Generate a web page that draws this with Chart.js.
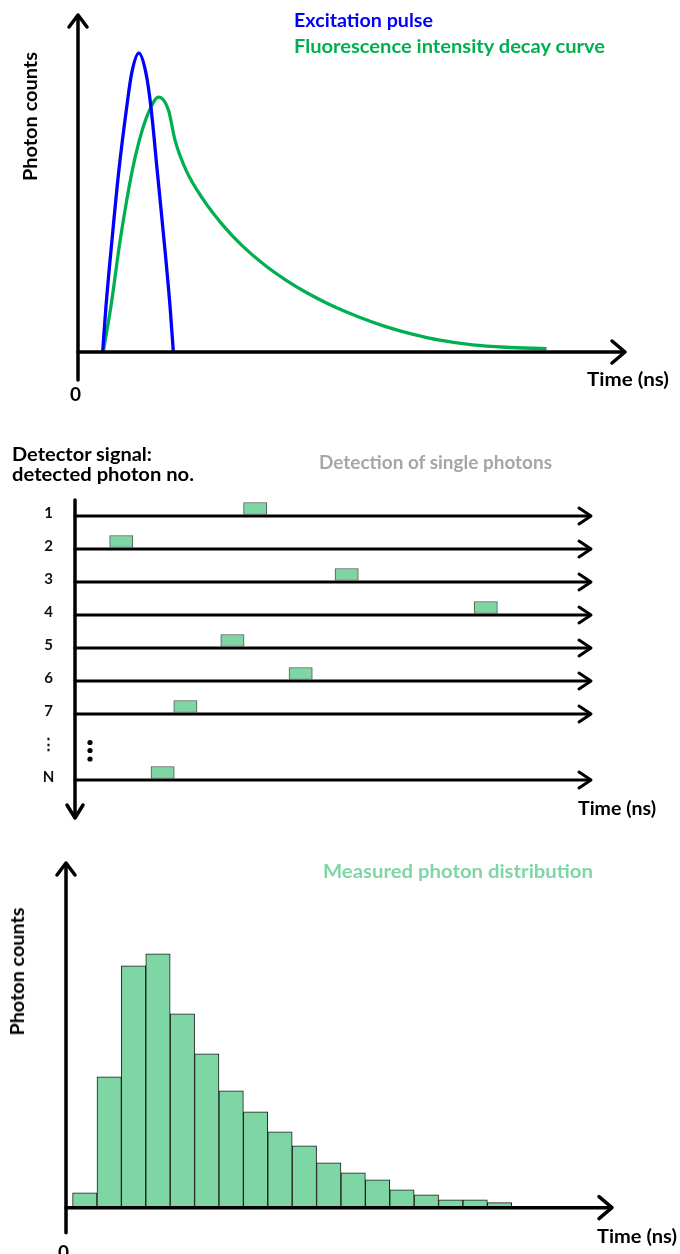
<!DOCTYPE html>
<html>
<head>
<meta charset="utf-8">
<script src="https://cdn.jsdelivr.net/npm/chart.js@4.4.1/dist/chart.umd.min.js"></script>
<style>
  html, body { margin: 0; padding: 0; background: #fff; }
  #page { position: relative; width: 680px; height: 1254px; overflow: hidden; background: #fff; }
  #page canvas { position: absolute; left: 0; }
  .lbl { position: absolute; white-space: nowrap; line-height: 1; font-weight: 700;
         font-family: Lato, 'Open Sans', sans-serif; }
</style>
</head>
<body>
<div id="page">
  <canvas id="c-decay" width="680" height="410" style="top:0"></canvas>
  <canvas id="c-photons" width="680" height="420" style="top:410px"></canvas>
  <canvas id="c-hist" width="680" height="424" style="top:830px"></canvas>
</div>
<script>
// ── Data ────────────────────────────────────────────────────────
// top panel: excitation pulse + fluorescence decay (time 0-100, counts 0-100)
const pulseTime   = [4.5, 5.1, 6.2, 7.4, 8.9, 9.8, 11.1, 12.4, 13.3, 14.5, 15.7, 16.8, 17.4];
const pulseCounts = [0, 13.4, 33.1, 52.9, 72.6, 82.5, 88.4, 82.5, 72.6, 52.9, 33.1, 13.4, 0];

const decayTime   = [4.6, 6.0, 7.7, 9.8, 11.2, 12.8, 14.7, 16.5, 17.7, 19.8, 22.9, 26.5,
                     30.0, 34.0, 38.0, 42.0, 46.0, 51.0, 56.0, 61.0, 66.0, 72.0, 78.0, 85.5];
const decayCounts = [0, 13.4, 33.1, 52.9, 62.7, 70.6, 75.4, 71.6, 62.7, 53.5, 45.0, 37.4,
                     31.4, 25.8, 21.2, 17.3, 14.0, 10.5, 7.6, 5.3, 3.5, 2.1, 1.4, 1.0];

// middle panel: arrival time of the single detected photon in each run
const rowLabels     = ['1', '2', '3', '4', '5', '6', '7', '\u22EE', 'N'];
const photonArrival = [32.6, 6.7, 50.3, 77.2, 28.2, 41.4, 19.1, null, 14.7];

// bottom panel: histogram of the arrival times
const binCenters = [0.5, 1.5, 2.5, 3.5, 4.5, 5.5, 6.5, 7.5, 8.5,
                    9.5, 10.5, 11.5, 12.5, 13.5, 14.5, 15.5, 16.5, 17.5];
const binCounts  = [15, 131, 242, 254, 194, 154, 117, 96, 76, 62, 45, 35, 28, 18, 13, 8, 8, 5];

// ── Styles ──────────────────────────────────────────────────────
const BLUE = '#0000FF';
const GREEN = '#00B050';
const LIGHT_GREEN = '#7FD6A5';
const FONT = "Lato, 'Open Sans', sans-serif";
const BOX_W = 4.5;   // width of a detector pulse, in time units

Chart.defaults.font.family = FONT;
Chart.defaults.animation = false;

// ── Drawing helpers for arrowed axes ────────────────────────────
function seg(ctx, x1, y1, x2, y2) {
  ctx.beginPath(); ctx.moveTo(x1, y1); ctx.lineTo(x2, y2); ctx.stroke();
}
function chevron(ctx, x, y, dir, len, half) {
  ctx.beginPath();
  if (dir === 'right') { ctx.moveTo(x - len, y - half); ctx.lineTo(x, y); ctx.lineTo(x - len, y + half); }
  if (dir === 'up')    { ctx.moveTo(x - half, y + len); ctx.lineTo(x, y); ctx.lineTo(x + half, y + len); }
  if (dir === 'down')  { ctx.moveTo(x - half, y - len); ctx.lineTo(x, y); ctx.lineTo(x + half, y - len); }
  ctx.stroke();
}
function axisPen(ctx, w) {
  ctx.strokeStyle = '#000'; ctx.lineWidth = w;
  ctx.lineJoin = 'round'; ctx.lineCap = 'round';
}

// origin-style axes: y arrow up, x arrow right, y line runs a bit below 0
function xyArrows(below) {
  return {
    id: 'xyArrows',
    afterDatasetsDraw(chart) {
      const { ctx, chartArea: a } = chart;
      ctx.save();
      axisPen(ctx, 3.5);
      seg(ctx, a.left, a.bottom + below, a.left, a.top + 2);
      seg(ctx, a.left, a.bottom, a.right - 2, a.bottom);
      chevron(ctx, a.left, a.top + 1, 'up', 12, 9);
      chevron(ctx, a.right - 1, a.bottom, 'right', 13, 11);
      ctx.restore();
    }
  };
}

// ── Top: excitation pulse and decay curve ───────────────────────
new Chart(document.getElementById('c-decay'), {
  type: 'line',
  data: {
    datasets: [
      {
        label: 'Excitation pulse',
        data: pulseTime.map(function (t, i) { return { x: t, y: pulseCounts[i] }; }),
        borderColor: BLUE,
        borderWidth: 3.3,
        pointRadius: 0,
        cubicInterpolationMode: 'monotone',
        clip: false
      },
      {
        label: 'Fluorescence intensity decay curve',
        data: decayTime.map(function (t, i) { return { x: t, y: decayCounts[i] }; }),
        borderColor: GREEN,
        borderWidth: 3.3,
        pointRadius: 0,
        cubicInterpolationMode: 'monotone',
        clip: false
      }
    ]
  },
  options: {
    responsive: false,
    layout: { padding: { left: 78, right: 54, top: 14, bottom: 58 } },
    plugins: { legend: { display: false }, tooltip: { enabled: false } },
    scales: {
      x: { type: 'linear', display: false, min: 0, max: 100 },
      y: { type: 'linear', display: false, min: 0, max: 100 }
    }
  },
  plugins: [xyArrows(28)]
});

// ── Middle: single photon detections ────────────────────────────
new Chart(document.getElementById('c-photons'), {
  type: 'bar',
  data: {
    labels: rowLabels,
    datasets: [{
      label: 'Detected photon',
      data: photonArrival.map(function (t) { return t === null ? null : [t, t + BOX_W]; }),
      backgroundColor: LIGHT_GREEN,
      borderColor: '#555',
      borderWidth: 1,
      borderSkipped: false,
      barThickness: 12
    }]
  },
  options: {
    indexAxis: 'y',
    responsive: false,
    layout: { padding: { left: 25, right: 88, top: 82, bottom: 41 } },
    plugins: { legend: { display: false }, tooltip: { enabled: false } },
    scales: {
      x: { type: 'linear', display: false, min: 0, max: 100 },
      y: {
        type: 'category',
        grid: { display: false, drawTicks: false },
        border: { display: false },
        ticks: {
          color: '#111',
          font: { size: 15, weight: 'bold' },
          crossAlign: 'center',
          padding: 19,
          labelOffset: 5
        },
        afterFit: function (scale) { scale.width = 50; }
      }
    }
  },
  plugins: [{
    id: 'rowArrows',
    beforeDatasetsDraw(chart) {
      const { ctx, chartArea: a } = chart;
      const yScale = chart.scales.y;
      ctx.save();
      axisPen(ctx, 3);
      rowLabels.forEach(function (lab, i) {
        const y = yScale.getPixelForValue(i) + 7.5;
        if (lab === '\u22EE') {
          // ellipsis dots between row 7 and row N
          ctx.fillStyle = '#000';
          [-4.5, 3.5, 12].forEach(function (dy) {
            ctx.beginPath(); ctx.arc(a.left + 15, y + dy, 2.6, 0, Math.PI * 2); ctx.fill();
          });
          return;
        }
        seg(ctx, a.left, y, a.right - 2, y);
        chevron(ctx, a.right - 1, y, 'right', 12, 8);
      });
      axisPen(ctx, 3.5);
      seg(ctx, a.left, a.top + 8, a.left, a.bottom + 28);
      chevron(ctx, a.left, a.bottom + 29, 'down', 13, 8);
      ctx.restore();
    }
  }]
});

// ── Bottom: measured photon distribution ────────────────────────
new Chart(document.getElementById('c-hist'), {
  type: 'bar',
  data: {
    datasets: [{
      label: 'Photon counts',
      data: binCenters.map(function (t, i) { return { x: t, y: binCounts[i] }; }),
      backgroundColor: LIGHT_GREEN,
      borderColor: '#1c1c1c',
      borderWidth: 1,
      categoryPercentage: 1,
      barPercentage: 1
    }]
  },
  options: {
    responsive: false,
    layout: { padding: { left: 66, right: 67, top: 32, bottom: 46.3 } },
    plugins: { legend: { display: false }, tooltip: { enabled: false } },
    scales: {
      x: { type: 'linear', display: false, offset: false, grid: { offset: false },
           min: -0.27, max: 22.15 },
      y: { type: 'linear', display: false, min: 0, max: 346 }
    }
  },
  plugins: [xyArrows(25)]
});

// ── Text labels (fitted to the widths of the reference) ─────────
const page = document.getElementById('page');
function put(text, o) {
  const el = document.createElement('div');
  el.className = 'lbl';
  el.textContent = text;
  el.style.fontSize = o.size + 'px';
  el.style.color = o.color || '#000';
  page.appendChild(el);
  const natural = el.getBoundingClientRect().width;
  const sx = o.w ? o.w / natural : 1;
  if (o.rot) {
    el.style.left = (o.cx - natural / 2) + 'px';
    el.style.top = (o.cy - o.size / 2) + 'px';
    el.style.transform = 'rotate(-90deg) scaleX(' + sx + ')';
  } else {
    el.style.left = o.x + 'px';
    el.style.top = (o.base - 0.887 * o.size) + 'px';
    el.style.transformOrigin = '0 0';
    el.style.transform = 'scaleX(' + sx + ')';
  }
}

put('Excitation pulse', { x: 294, base: 27, w: 139, size: 19, color: BLUE });
put('Fluorescence intensity decay curve', { x: 294, base: 53, w: 311, size: 19, color: GREEN });
put('Photon counts', { rot: true, cx: 30, cy: 116, w: 129, size: 19 });
put('Time (ns)', { x: 587, base: 386, w: 82, size: 19 });
put('0', { x: 70, base: 401, size: 19 });

put('Detector signal:', { x: 12, base: 461, w: 140, size: 19 });
put('detected photon no.', { x: 12, base: 481, w: 182, size: 19 });
put('Detection of single photons', { x: 319, base: 469, w: 233, size: 18, color: '#A6A6A6' });
put('Time (ns)', { x: 578, base: 815, w: 78, size: 19 });

put('Measured photon distribution', { x: 323, base: 878, w: 270, size: 19, color: LIGHT_GREEN });
put('Photon counts', { rot: true, cx: 17, cy: 971, w: 128, size: 19 });
put('Time (ns)', { x: 597, base: 1243, w: 80, size: 19 });
put('0', { x: 58, base: 1259, size: 19 });
</script>
</body>
</html>
